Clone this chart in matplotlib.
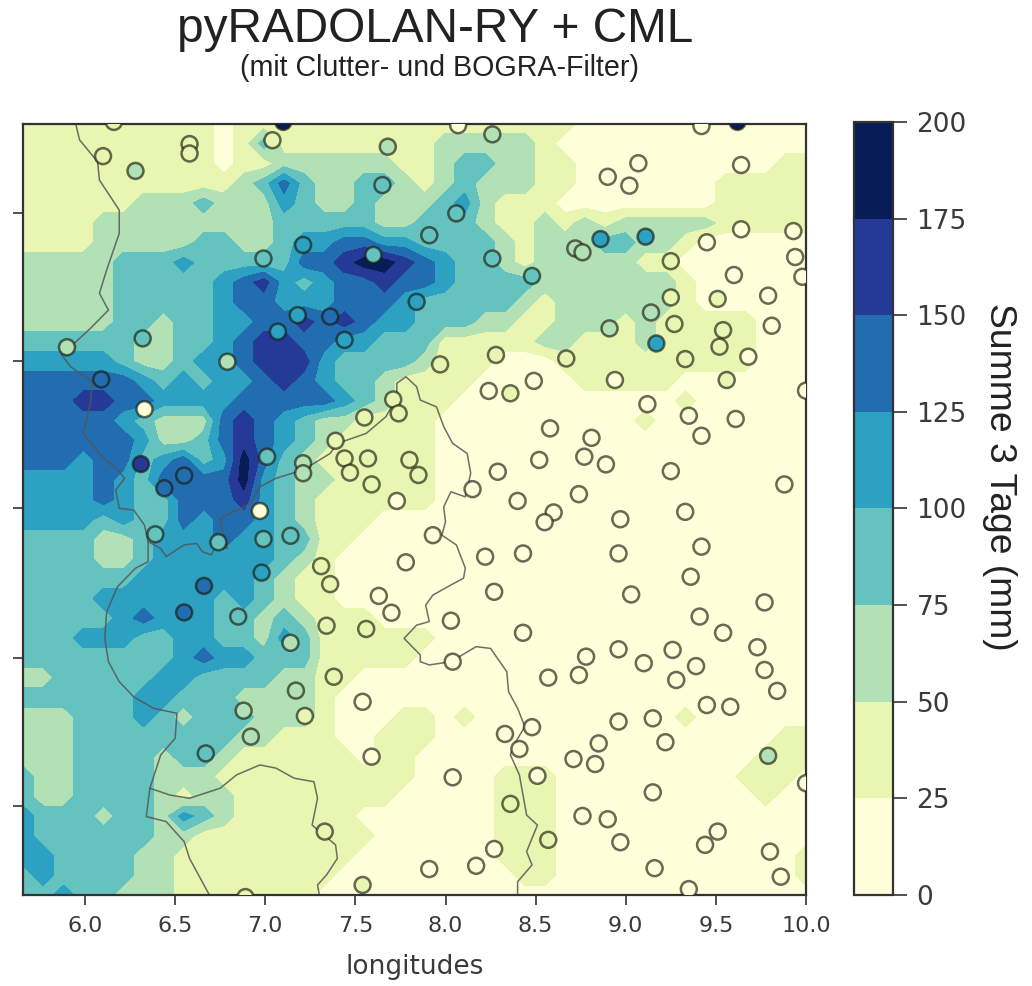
import numpy as np
import matplotlib
matplotlib.use("Agg")
import matplotlib.pyplot as plt

# rain sum per grid cell, written as legend class (0 = 0-25 mm ... 7 = 175-200 mm), north to south
rain_rows = [
    "1111111111 0111111111 1111111100 0000000000",
    "1111111111 0131111111 1222221000 0000000000",
    "1111111111 0112222221 1233221100 0000000011",
    "1111111111 1235322332 1232221100 0000011111",
    "1111112223 2224322322 2342111000 0000011111",
    "1111222222 2223333322 3332112121 2222211111",
    "1111222223 3223445544 3333212223 3221000000",
    "2222233343 3333556776 5433212222 2110000000",
    "2222233333 4564345565 5433332222 2221000000",
    "2222233333 4554445554 3333321222 2221000000",
    "2222233233 4455656544 3332211222 1211111000",
    "3333332233 4566554433 3111112211 1211111000",
    "4444432234 4566643333 2111000111 1111111000",
    "5555554343 4456543321 1110000011 1110000000",
    "5556655444 4555554321 1100000000 0001000000",
    "5555543222 5654322111 1000000000 0100000000",
    "5555554223 5654321111 1000000000 0000000000",
    "5554553453 4753211111 1000000000 0000000000",
    "4444543555 5743221111 1000000000 0000000000",
    "4444543355 5643211111 1000000000 0000000000",
    "4444343354 5543211100 0000000000 0000000000",
    "3333223444 5443311000 0000000000 0000000000",
    "3333223444 4443210000 0000000000 0000000000",
    "3333334444 4432110000 0000000000 0000000000",
    "3333444444 3432110000 0000000000 0000000000",
    "3333345444 3323211100 0000000000 0000000000",
    "3334443344 3324311111 1000000000 0000000000",
    "3333333345 4433311111 0000000000 0000000000",
    "2233333443 3332211000 0000000000 0000000000",
    "3333334433 3222210000 0000000000 0000000000",
    "2223334323 3322210001 1010000000 0001000000",
    "2223333333 3221110011 1000000000 0000000011",
    "2223333233 2111111011 0000000000 0000000111",
    "3223333222 1111111111 0000111000 0000001110",
    "3223333212 2111111110 0000111000 0000000100",
    "4333233243 2111111000 0000111000 0000000000",
    "4333333221 1111111100 0000111000 0000000000",
    "4433332211 1111111000 0000111000 0000000001",
    "3433332211 1111110000 0000011000 0000000001",
    "3343322211 1111100000 0000000000 0000000000",
]

# stations: longitude, latitude, rain sum in mm
stat_lon = [6.10, 6.28, 6.58, 6.58, 7.04, 7.68, 7.65, 7.21, 6.99, 7.60, 7.18, 7.36, 7.07, 7.44, 6.32, 5.90,
            6.79, 6.09, 6.33, 7.71, 7.74, 7.55, 7.39, 7.01, 7.21, 7.21, 7.44, 7.57, 7.47, 7.80, 7.59, 7.73,
            6.31, 6.55, 6.44, 6.97, 7.85, 8.07, 8.26, 9.42, 9.07, 8.90, 9.02, 9.64, 8.06, 7.91, 8.86, 9.11,
            8.72, 8.76, 8.26, 8.48, 9.64, 9.93, 9.45, 9.25, 9.94, 9.60, 9.98, 7.84, 9.25, 9.51, 9.79, 9.14,
            9.27, 8.91, 9.54, 9.81, 9.17, 9.52, 9.68, 9.33, 8.28, 8.67, 7.97, 8.49, 8.24, 8.36, 8.94, 9.56,
            10.0, 9.12, 9.35, 9.61, 9.42, 8.58, 8.81, 8.77, 8.89, 8.52, 9.25, 8.29, 8.15, 8.74, 9.88, 8.40,
            8.60, 9.33, 8.97, 8.55, 9.42, 7.93, 8.22, 8.43, 8.96, 7.78, 9.36, 8.27, 9.03, 9.77, 9.41, 8.03,
            8.43, 9.54, 8.96, 9.73, 9.26, 8.78, 8.04, 9.10, 9.39, 9.77, 8.74, 9.28, 8.57, 9.84, 9.45, 9.58,
            9.15, 8.96, 8.48, 8.33, 8.85, 9.22, 8.41, 8.71, 8.83, 9.79, 8.04, 8.51, 10.0, 9.15, 8.36, 8.76,
            8.90, 9.51, 9.44, 8.97, 8.57, 9.80, 8.27, 8.17, 7.91, 9.16, 9.86, 9.35, 6.39, 6.74, 6.99, 7.14,
            6.98, 7.31, 7.36, 6.66, 7.63, 7.70, 6.55, 6.85, 7.34, 7.56, 7.14, 7.38, 7.17, 7.54, 6.88, 7.22,
            6.92, 6.67, 7.59, 7.33, 7.54, 6.89, 6.16, 7.10, 9.62]
stat_lat = [52.193, 52.143, 52.234, 52.202, 52.247, 52.225, 52.095, 51.892, 51.846, 51.858, 51.654, 51.649,
            51.598, 51.570, 51.575, 51.545, 51.496, 51.436, 51.335, 51.368, 51.321, 51.307, 51.228, 51.174,
            51.152, 51.118, 51.168, 51.168, 51.120, 51.163, 51.080, 51.024, 51.149, 51.110, 51.067, 50.990,
            51.112, 52.298, 52.267, 52.295, 52.169, 52.123, 52.093, 52.163, 51.999, 51.925, 51.912, 51.920,
            51.880, 51.867, 51.846, 51.787, 51.945, 51.939, 51.901, 51.837, 51.851, 51.790, 51.784, 51.699,
            51.714, 51.709, 51.720, 51.663, 51.624, 51.609, 51.603, 51.618, 51.558, 51.547, 51.513, 51.505,
            51.519, 51.507, 51.487, 51.431, 51.397, 51.389, 51.434, 51.434, 51.398, 51.352, 51.313, 51.302,
            51.245, 51.270, 51.238, 51.174, 51.148, 51.163, 51.125, 51.123, 51.064, 51.047, 51.080, 51.024,
            50.985, 50.987, 50.962, 50.952, 50.869, 50.908, 50.835, 50.846, 50.846, 50.816, 50.767, 50.716,
            50.707, 50.680, 50.632, 50.618, 50.577, 50.577, 50.521, 50.528, 50.519, 50.496, 50.479, 50.474,
            50.464, 50.451, 50.434, 50.417, 50.425, 50.380, 50.332, 50.326, 50.287, 50.276, 50.257, 50.234,
            50.202, 50.206, 50.183, 50.149, 50.132, 50.160, 50.087, 50.092, 50.067, 50.036, 49.997, 49.956,
            49.945, 49.903, 49.858, 49.867, 49.875, 49.835, 49.844, 49.787, 49.776, 49.779, 49.750, 49.708,
            50.911, 50.884, 50.895, 50.906, 50.781, 50.803, 50.742, 50.736, 50.702, 50.645, 50.646, 50.632,
            50.601, 50.590, 50.543, 50.428, 50.381, 50.343, 50.313, 50.295, 50.225, 50.168, 50.157, 49.903,
            49.722, 49.681, 52.309, 52.309, 52.309]
stat_mm = [30, 60, 30, 30, 30, 60, 85, 120, 90, 90, 110, 135, 100, 100, 90, 60,
           70, 125, 15, 35, 30, 35, 40, 85, 50, 50, 35, 35, 35, 30, 30, 15,
           170, 125, 125, 8, 40, 20, 60, 15, 15, 15, 15, 15, 90, 85, 110, 105,
           60, 50, 90, 90, 15, 15, 15, 30, 15, 15, 15, 110, 35, 35, 15, 60,
           40, 70, 30, 15, 110, 40, 15, 30, 40, 35, 35, 15, 15, 30, 15, 35,
           15, 15, 15, 15, 15, 15, 15, 15, 15, 15, 15, 15, 15, 15, 15, 15,
           15, 15, 15, 15, 15, 15, 15, 15, 15, 15, 15, 15, 15, 15, 15, 15,
           15, 15, 15, 15, 15, 15, 15, 15, 15, 15, 15, 15, 15, 15, 15, 15,
           15, 15, 15, 15, 15, 15, 15, 15, 15, 65, 15, 15, 15, 15, 30, 15,
           15, 15, 15, 15, 30, 15, 15, 15, 15, 15, 15, 15, 90, 90, 85, 90,
           110, 30, 30, 130, 15, 15, 135, 80, 30, 30, 60, 30, 65, 15, 60, 35,
           60, 85, 15, 30, 30, 30, 30, 190, 190]

# borders
west_lon = [5.95, 5.97, 6.07, 6.08, 6.19, 6.19, 6.12, 6.08, 6.13, 6.03, 5.92, 5.87, 5.92, 6.04, 6.03, 5.99,
            6.08, 6.18, 6.22, 6.17, 6.19, 6.27, 6.33, 6.35, 6.35, 6.28, 6.18, 6.12, 6.11, 6.13, 6.19, 6.27,
            6.38, 6.51, 6.50, 6.42, 6.36, 6.34, 6.45, 6.55, 6.58, 6.69]
west_lat = [52.298, 52.248, 52.174, 52.112, 52.010, 51.931, 51.807, 51.728, 51.671, 51.609, 51.547, 51.519,
            51.479, 51.428, 51.355, 51.253, 51.185, 51.129, 51.101, 51.061, 50.999, 50.993, 50.942, 50.886,
            50.818, 50.796, 50.733, 50.648, 50.558, 50.479, 50.411, 50.360, 50.321, 50.304, 50.219, 50.163,
            50.050, 49.954, 49.937, 49.869, 49.812, 49.688]
south_lon = [6.36, 6.47, 6.58, 6.75, 6.84, 6.97, 7.06, 7.16, 7.27, 7.29, 7.26, 7.39, 7.40, 7.34, 7.29, 7.30]
south_lat = [50.050, 50.027, 50.016, 50.050, 50.095, 50.129, 50.118, 50.084, 50.072, 50.016, 49.925, 49.858,
             49.812, 49.756, 49.722, 49.688]
east_lon = [6.35, 6.42, 6.45, 6.55, 6.62, 6.65, 6.70, 6.73, 6.79, 6.77, 6.75, 6.92, 6.97, 7.06, 7.21, 7.36,
            7.40, 7.56, 7.67, 7.73, 7.73, 7.78, 7.80, 7.84, 7.86, 7.95, 7.99, 8.04, 8.12, 8.14, 8.11, 8.03,
            7.99, 8.00, 7.98, 8.06, 8.11, 8.10, 8.03, 7.93, 7.89, 7.91, 7.84, 7.77, 7.86, 7.86, 7.91, 8.03,
            8.17, 8.25, 8.34, 8.35, 8.40, 8.44, 8.38, 8.36, 8.41, 8.45, 8.51, 8.45, 8.48, 8.40, 8.40]
east_lat = [50.886, 50.863, 50.835, 50.875, 50.880, 50.852, 50.841, 50.875, 50.863, 50.897, 50.965, 51.016,
            51.072, 51.101, 51.129, 51.185, 51.219, 51.253, 51.310, 51.377, 51.423, 51.445, 51.434, 51.411,
            51.366, 51.343, 51.276, 51.219, 51.185, 51.118, 51.038, 51.055, 51.004, 50.954, 50.908, 50.875,
            50.796, 50.762, 50.739, 50.705, 50.671, 50.615, 50.603, 50.558, 50.502, 50.479, 50.468, 50.479,
            50.530, 50.524, 50.445, 50.377, 50.321, 50.259, 50.197, 50.163, 50.095, 49.959, 49.925, 49.835,
            49.790, 49.733, 49.688]

levels = [0, 25, 50, 75, 100, 125, 150, 175, 200]
x_ticks = [6.0, 6.5, 7.0, 7.5, 8.0, 8.5, 9.0, 9.5, 10.0]
y_ticks = [49.99, 50.49, 51.0, 51.5, 52.0]

rain = np.array([[int(c) for c in r.replace(" ", "")] for r in rain_rows]) * 25 + 12.5
lon = np.linspace(5.656, 10.0, rain.shape[1])
lat = np.linspace(52.302, 49.688, rain.shape[0])

text_col = "#3a3a3a"
fig = plt.figure(figsize=(10.32, 9.86), dpi=100)
ax = fig.add_axes([23 / 1032, 1 - 895 / 986, 783 / 1032, 771 / 986])
cax = fig.add_axes([854 / 1032, 1 - 895 / 986, 39 / 1032, 773 / 986])

cmap = plt.get_cmap("YlGnBu", 8)
cs = ax.contourf(lon, lat, rain, levels=levels, cmap=cmap)
for xs, ys in [(west_lon, west_lat), (south_lon, south_lat), (east_lon, east_lat)]:
    ax.plot(xs, ys, color="#555555", lw=1.1, alpha=0.85)
ax.scatter(stat_lon, stat_lat, c=stat_mm, cmap=cmap, vmin=0, vmax=200, s=132,
           edgecolors=(0.1, 0.1, 0.05, 0.65), linewidths=1.8, zorder=3)

ax.set_xlim(5.656, 10.0)
ax.set_ylim(49.688, 52.302)
ax.set_xticks(x_ticks)
ax.set_yticks(y_ticks)
ax.set_yticklabels([])
ax.tick_params(axis="both", length=7, width=1.2, color="#333333", labelcolor=text_col, labelsize=16, pad=8)
ax.set_xlabel("longitudes", fontsize=19, color=text_col, labelpad=13)
for s in ax.spines.values():
    s.set_linewidth(1.6)
    s.set_color("#333333")

cb = fig.colorbar(cs, cax=cax, ticks=levels)
cb.ax.tick_params(length=10, width=1.2, color="#333333", labelcolor=text_col, labelsize=19, pad=7)
cb.outline.set_linewidth(1.6)
cb.outline.set_edgecolor("#333333")

fig.text(435 / 1032, 1 - 30 / 986, "pyRADOLAN-RY + CML", family="Liberation Sans", fontsize=34.4,
         ha="center", va="center", color="#222222")
fig.text(440 / 1032, 1 - 68 / 986, "(mit Clutter- und BOGRA-Filter)", family="Liberation Sans", fontsize=20.6,
         ha="center", va="center", color="#222222")
fig.text(1000 / 1032, 1 - 477 / 986, "Summe 3 Tage (mm)", family="Liberation Sans", fontsize=26.8,
         rotation=270, ha="center", va="center", color="#222222")

fig.savefig("out.png", dpi=100)
